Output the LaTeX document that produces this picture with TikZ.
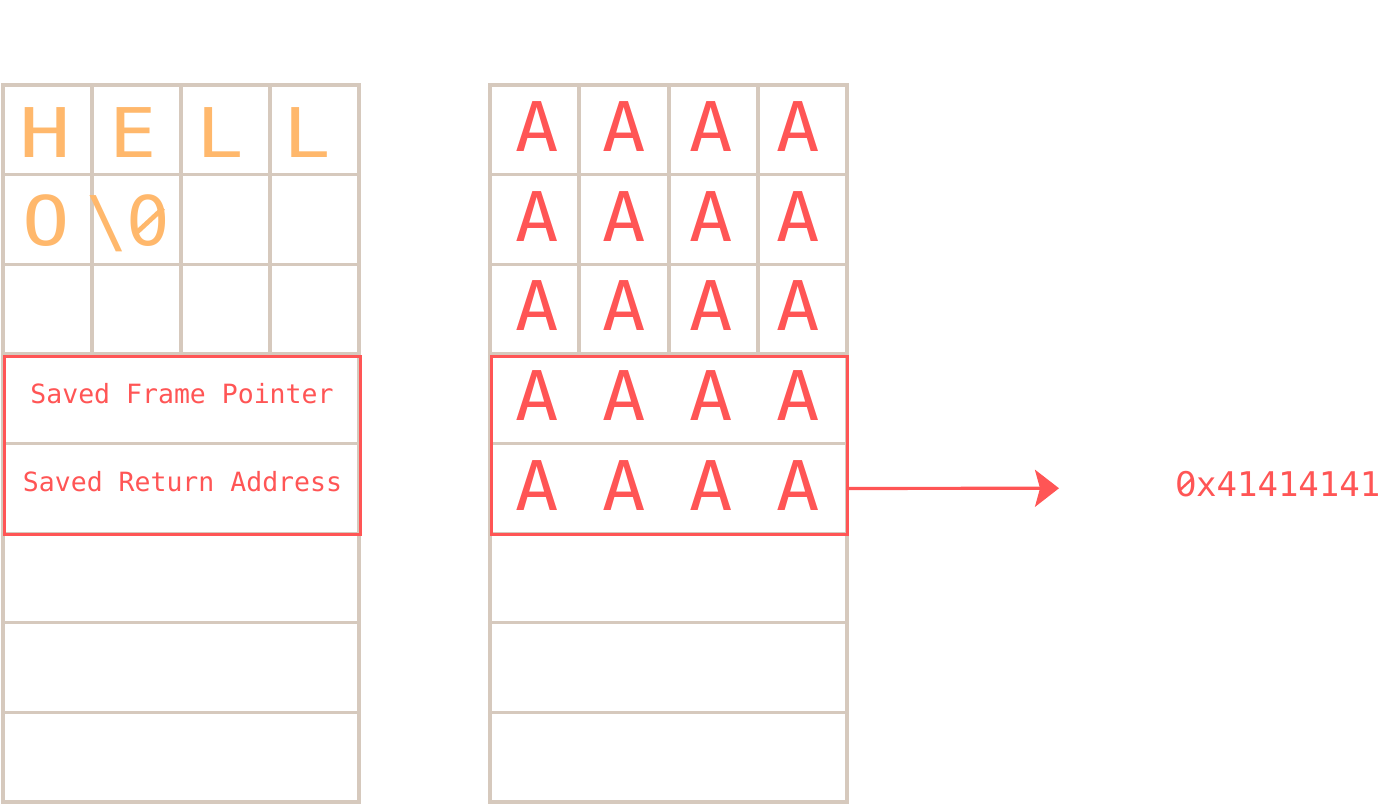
\documentclass[tikz,border=0pt]{standalone}
\usepackage{fontspec}
\usepackage{graphicx}
\newfontfamily\monofont{DejaVu Sans Mono}
\newfontfamily\plainzerofont{DejaVu Sans}
\newcommand\plz{\makebox[0.602em]{\plainzerofont 0}}
\usetikzlibrary{arrows.meta,calc}
\definecolor{gridc}{HTML}{D6C9BD}
\definecolor{redc}{HTML}{FF5555}
\definecolor{orangec}{HTML}{FFB86C}
\begin{document}
\begin{tikzpicture}[x=1pt,y=-1pt,
  gridline/.style={draw=gridc,line width=3.2pt},
  redbox/.style={draw=redc,line width=3.2pt,inner sep=0pt,anchor=north west},
  big/.style={inner sep=0pt,anchor=base,font=\monofont\fontsize{68.5}{80}\selectfont},
  bigA/.style={big,text=redc},
  bigO/.style={big,text=orangec},
  slottext/.style={inner sep=0pt,anchor=base,text=redc,font=\monofont\fontsize{26.5}{30}\selectfont},
  hextext/.style={inner sep=0pt,anchor=base,text=redc,font=\monofont\fontsize{34}{40}\selectfont},
  arrowline/.style={draw=redc,line width=3.2pt,-{Stealth[length=24pt,width=37pt,inset=5pt]}},
  zslash/.style={line width=#1}
]
\path[use as bounding box] (0,0) rectangle (1389,806);
% grids
\foreach \xa/\xb/\ca/\cb/\cc in {3/359/92/181/270, 490/847/579/669/758}{
  \draw[gridline] (\xa,85) rectangle (\xb,802);
  \foreach \yy in {174.6,264.25,353.9,443.5,533.1,622.75,712.4}
    \draw[gridline] (\xa,\yy) -- (\xb,\yy);
  \foreach \xx in {\ca,\cb,\cc}
    \draw[gridline] (\xx,85) -- (\xx,353.9);
}
% red frames
\node[redbox,minimum width=356pt,minimum height=178.5pt] (frameL) at (3,354.5) {};
\node[redbox,minimum width=356pt,minimum height=178.5pt] (frameR) at (490,354.5) {};
\node[inner sep=0pt,minimum width=356pt,minimum height=89.5pt,anchor=north west] (rowR5) at (490,443.5) {};
% HELLO
\node[bigO] (h1) at (45,157) {\scalebox{1.25}[1]{H}};
\node[bigO] (h2) at (133,157) {\scalebox{1.15}[1]{E}};
\node[bigO] (h3) at (220.5,157) {\scalebox{1.15}[1]{L}};
\node[bigO] (h4) at (307.5,157) {\scalebox{1.15}[1]{L}};
\node[bigO] (h5) at (46,245.5) {\scalebox{1.15}[1]{O}};
\node[bigO] (h6) at (128,245.5) {\textbackslash\plz};
\draw[orangec,zslash=4.7pt] ($(h6.base east)+(-32.2,-13.5)$) -- ($(h6.base east)+(-6.2,-37.5)$);
% saved labels
\node[slottext] (sfp) at (182,403.3) {Saved Frame Pointer};
\node[slottext] (sra) at (182.5,491.7) {Saved Return Address};
% A's
\foreach \r/\yb in {1/151.5,2/241.1,3/330.75,4/420.4,5/510}
  \foreach \c/\xc in {1/537.5,2/624.5,3/711.5,4/798.5}
    \node[bigA] (A\r\c) at (\xc,\yb) {\scalebox{1.05}[1]{A}};
% arrow and address
\node[hextext] (hex) at (1278,496.7) {\plz x41414141};
\draw[redc,zslash=2.4pt] ($(hex.base west)+(4.5,-6.7)$) -- ($(hex.base west)+(17.4,-18.6)$);
\coordinate (tip) at (1059,488.25);
\draw[arrowline] (rowR5.east) -- (tip);
\end{tikzpicture}
\end{document}
